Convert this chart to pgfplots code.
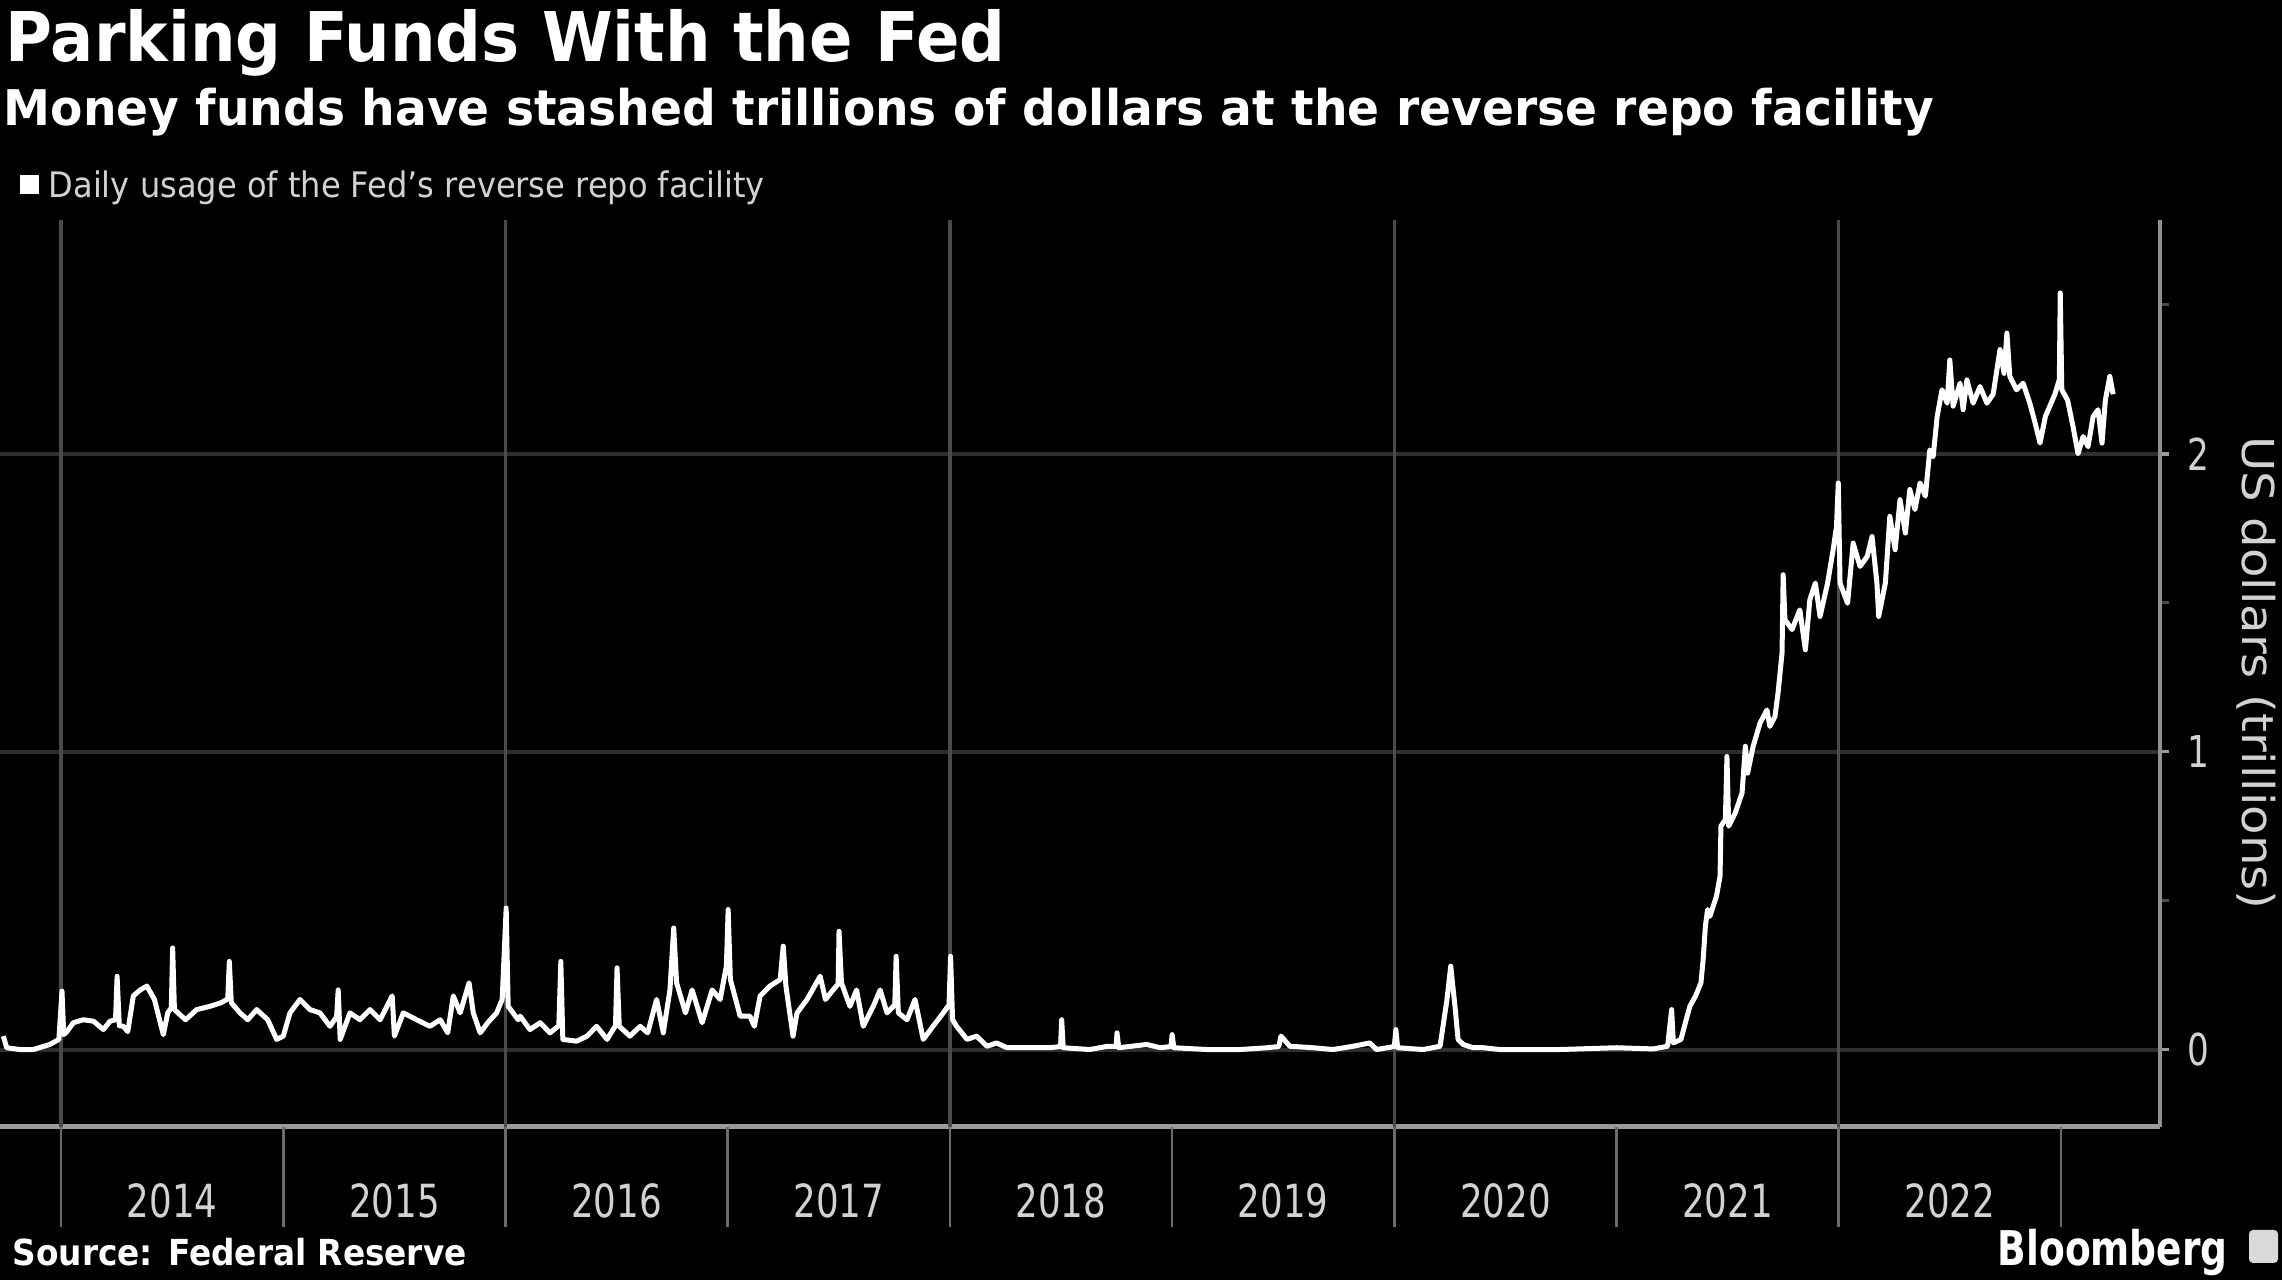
\documentclass[border=0pt]{standalone}
\usepackage{pgfplots}
\pgfplotsset{compat=1.18}
\usepackage{fontspec}
\setmainfont{DejaVu Sans}
\newfontfamily\cond[FakeStretch=0.78]{DejaVu Sans}
\definecolor{gridh}{HTML}{2E2E2E}
\definecolor{gridv}{HTML}{4A4A4A}
\definecolor{spine}{HTML}{9A9A9A}
\definecolor{ticktext}{HTML}{D2D2D2}
\definecolor{yeartick}{HTML}{6A6A6A}
\pgfplotstableread{
x y
2013.740 0.045
2013.755 0.006
2013.815 0.000
2013.874 0.000
2013.950 0.017
2013.990 0.034
2014.004 0.196
2014.012 0.050
2014.026 0.060
2014.055 0.090
2014.100 0.100
2014.146 0.095
2014.190 0.067
2014.220 0.095
2014.245 0.100
2014.252 0.246
2014.262 0.080
2014.280 0.078
2014.300 0.060
2014.325 0.180
2014.356 0.200
2014.386 0.213
2014.420 0.168
2014.460 0.050
2014.480 0.123
2014.496 0.140
2014.502 0.341
2014.510 0.134
2014.560 0.100
2014.610 0.134
2014.670 0.145
2014.720 0.157
2014.750 0.170
2014.757 0.296
2014.766 0.157
2014.805 0.123
2014.840 0.100
2014.880 0.134
2014.930 0.100
2014.970 0.034
2015.000 0.045
2015.030 0.123
2015.075 0.168
2015.120 0.134
2015.165 0.123
2015.210 0.078
2015.240 0.110
2015.247 0.200
2015.256 0.034
2015.300 0.123
2015.345 0.100
2015.390 0.134
2015.436 0.100
2015.490 0.180
2015.500 0.045
2015.540 0.123
2015.600 0.100
2015.660 0.078
2015.706 0.100
2015.740 0.056
2015.765 0.180
2015.796 0.123
2015.836 0.224
2015.855 0.123
2015.886 0.056
2015.920 0.090
2015.960 0.123
2015.985 0.168
2016.003 0.475
2016.012 0.145
2016.057 0.100
2016.066 0.112
2016.110 0.067
2016.156 0.090
2016.200 0.056
2016.240 0.080
2016.249 0.296
2016.258 0.034
2016.320 0.028
2016.367 0.045
2016.410 0.078
2016.457 0.034
2016.495 0.080
2016.502 0.274
2016.512 0.078
2016.560 0.045
2016.606 0.078
2016.640 0.056
2016.680 0.168
2016.710 0.056
2016.740 0.200
2016.757 0.408
2016.770 0.224
2016.810 0.123
2016.840 0.200
2016.885 0.090
2016.930 0.200
2016.966 0.168
2016.994 0.280
2017.002 0.470
2017.012 0.235
2017.056 0.112
2017.100 0.112
2017.120 0.078
2017.146 0.180
2017.190 0.213
2017.236 0.235
2017.250 0.347
2017.262 0.213
2017.294 0.045
2017.312 0.123
2017.357 0.168
2017.416 0.246
2017.440 0.168
2017.474 0.200
2017.497 0.220
2017.501 0.397
2017.512 0.224
2017.550 0.145
2017.580 0.200
2017.610 0.078
2017.655 0.145
2017.686 0.200
2017.717 0.123
2017.752 0.150
2017.758 0.313
2017.768 0.123
2017.807 0.100
2017.843 0.168
2017.880 0.034
2017.924 0.078
2017.970 0.123
2017.996 0.150
2018.003 0.313
2018.012 0.100
2018.030 0.078
2018.077 0.034
2018.120 0.045
2018.167 0.011
2018.210 0.022
2018.257 0.006
2018.316 0.006
2018.390 0.006
2018.450 0.006
2018.498 0.010
2018.503 0.100
2018.510 0.006
2018.630 0.000
2018.710 0.011
2018.748 0.010
2018.752 0.056
2018.760 0.006
2018.886 0.017
2018.946 0.006
2018.995 0.010
2019.000 0.050
2019.008 0.006
2019.157 0.000
2019.306 0.000
2019.427 0.006
2019.480 0.010
2019.490 0.045
2019.530 0.011
2019.635 0.006
2019.725 0.000
2019.815 0.011
2019.890 0.022
2019.920 0.000
2020.000 0.010
2020.007 0.067
2020.015 0.006
2020.130 0.000
2020.206 0.011
2020.237 0.168
2020.254 0.280
2020.273 0.145
2020.287 0.034
2020.310 0.017
2020.355 0.006
2020.400 0.006
2020.476 0.000
2020.746 0.000
2021.000 0.006
2021.165 0.002
2021.230 0.011
2021.248 0.134
2021.256 0.022
2021.290 0.034
2021.310 0.090
2021.330 0.145
2021.356 0.180
2021.380 0.224
2021.390 0.302
2021.400 0.414
2021.410 0.470
2021.420 0.447
2021.450 0.515
2021.466 0.582
2021.470 0.750
2021.490 0.772
2021.497 0.984
2021.505 0.750
2021.534 0.794
2021.565 0.861
2021.580 1.018
2021.590 0.928
2021.615 1.018
2021.646 1.096
2021.677 1.140
2021.690 1.085
2021.713 1.118
2021.727 1.197
2021.745 1.331
2021.750 1.594
2021.758 1.443
2021.790 1.410
2021.825 1.476
2021.850 1.342
2021.870 1.510
2021.895 1.566
2021.916 1.454
2021.950 1.566
2021.975 1.678
2021.990 1.756
2021.998 1.902
2022.006 1.566
2022.040 1.498
2022.065 1.700
2022.096 1.622
2022.128 1.655
2022.150 1.722
2022.172 1.566
2022.180 1.454
2022.210 1.566
2022.230 1.790
2022.254 1.678
2022.276 1.846
2022.300 1.734
2022.320 1.880
2022.343 1.813
2022.366 1.902
2022.390 1.858
2022.410 2.013
2022.425 1.990
2022.443 2.125
2022.465 2.215
2022.488 2.170
2022.500 2.315
2022.515 2.160
2022.546 2.237
2022.560 2.148
2022.577 2.248
2022.605 2.170
2022.636 2.226
2022.667 2.170
2022.695 2.200
2022.726 2.350
2022.744 2.270
2022.757 2.405
2022.770 2.260
2022.800 2.215
2022.830 2.237
2022.860 2.170
2022.884 2.103
2022.906 2.036
2022.930 2.125
2022.950 2.160
2022.973 2.200
2022.993 2.250
2022.997 2.540
2023.004 2.215
2023.030 2.180
2023.055 2.090
2023.077 2.000
2023.100 2.058
2023.122 2.024
2023.145 2.125
2023.167 2.148
2023.185 2.036
2023.200 2.180
2023.220 2.260
2023.235 2.200
}\rrp
\begin{document}
\begin{tikzpicture}
\path[fill=black, use as bounding box] (0,0) rectangle (228.2mm,128mm);
% titles
\node[anchor=base west, inner sep=0, text=white] at (0.5mm,121.8mm)
  {\resizebox{100mm}{\height}{\bfseries\fontsize{19.5}{20}\selectfont Parking Funds With the Fed}};
\node[anchor=base west, inner sep=0, text=white] at (0.3mm,115.4mm)
  {\resizebox{193mm}{\height}{\bfseries\fontsize{14}{15}\selectfont Money funds have stashed trillions of dollars at the reverse repo facility}};
% legend
\fill[white] (2.0mm,108.6mm) rectangle (3.9mm,110.5mm);
\node[anchor=base west, inner sep=0, text=ticktext] at (4.8mm,108.2mm)
  {\resizebox{71.6mm}{\height}{\fontsize{10}{11}\selectfont Daily usage of the Fed's reverse repo facility}};
% footer
\node[anchor=base west, inner sep=0, text=white] at (1.2mm,1.4mm)
  {\resizebox{45.4mm}{\height}{\bfseries\fontsize{10.2}{11}\selectfont Source: Federal Reserve}};
\node[anchor=base west, inner sep=0, text=white] at (199.7mm,1.4mm)
  {\resizebox{23mm}{\height}{\bfseries\fontsize{13.6}{14}\selectfont Bloomberg}};
\fill[rounded corners=0.4mm, white!85!black] (224.9mm,1.7mm) rectangle (227.8mm,5.0mm);
% y label
\node[rotate=-90, inner sep=0, text=ticktext] at (225.6mm,60.7mm)
  {\resizebox{47.3mm}{\height}{\fontsize{12.5}{13}\selectfont US dollars (trillions)}};
\begin{axis}[
  at={(0,15.3mm)}, anchor=south west,
  scale only axis, width=216mm, height=90.7mm,
  xmin=2013.725, xmax=2023.446, ymin=-0.26, ymax=2.785,
  clip=false,
  /pgf/number format/assume math mode=true,
  axis x line*=bottom, axis y line*=right,
  axis line style={-},
  x axis line style={-, draw=spine, line width=0.5mm},
  y axis line style={-, draw=spine!110, line width=0.4mm},
  xtick={2014.5,2015.5,2016.5,2017.5,2018.5,2019.5,2020.5,2021.5,2022.5},
  xticklabels={2014,2015,2016,2017,2018,2019,2020,2021,2022},
  x tick style={draw=none},
  xticklabel style={anchor=center, yshift=-6.5mm, text=ticktext, font=\cond\fontsize{13}{13}\selectfont},
  ytick={0,1,2},
  minor ytick={0.5,1.5,2.5},
  tick align=outside,
  major tick length=0.9mm, minor tick length=0.9mm,
  y tick style={draw=spine, line width=0.35mm},
  minor y tick style={draw=gridv, line width=0.3mm},
  yticklabel style={anchor=west, xshift=0.6mm, text=ticktext, font=\cond\fontsize{12.5}{12.5}\selectfont},
  ymajorgrids,
  grid style={draw=gridh, line width=0.4mm},
]
\pgfplotsinvokeforeach{2014,2016,2018,2020,2022}{
  \draw[gridv, line width=0.35mm] (axis cs:#1,-0.26) -- (axis cs:#1,2.785);
}
\pgfplotsinvokeforeach{2014,2015,2016,2017,2018,2019,2020,2021,2022,2023}{
  \draw[yeartick, line width=0.25mm] (axis cs:#1,-0.26) -- ([yshift=-10mm]axis cs:#1,-0.26);
}
\addplot[white, line width=0.5mm, line join=round, mark=none] table[x=x, y=y] {\rrp};
\end{axis}
\end{tikzpicture}
\end{document}
